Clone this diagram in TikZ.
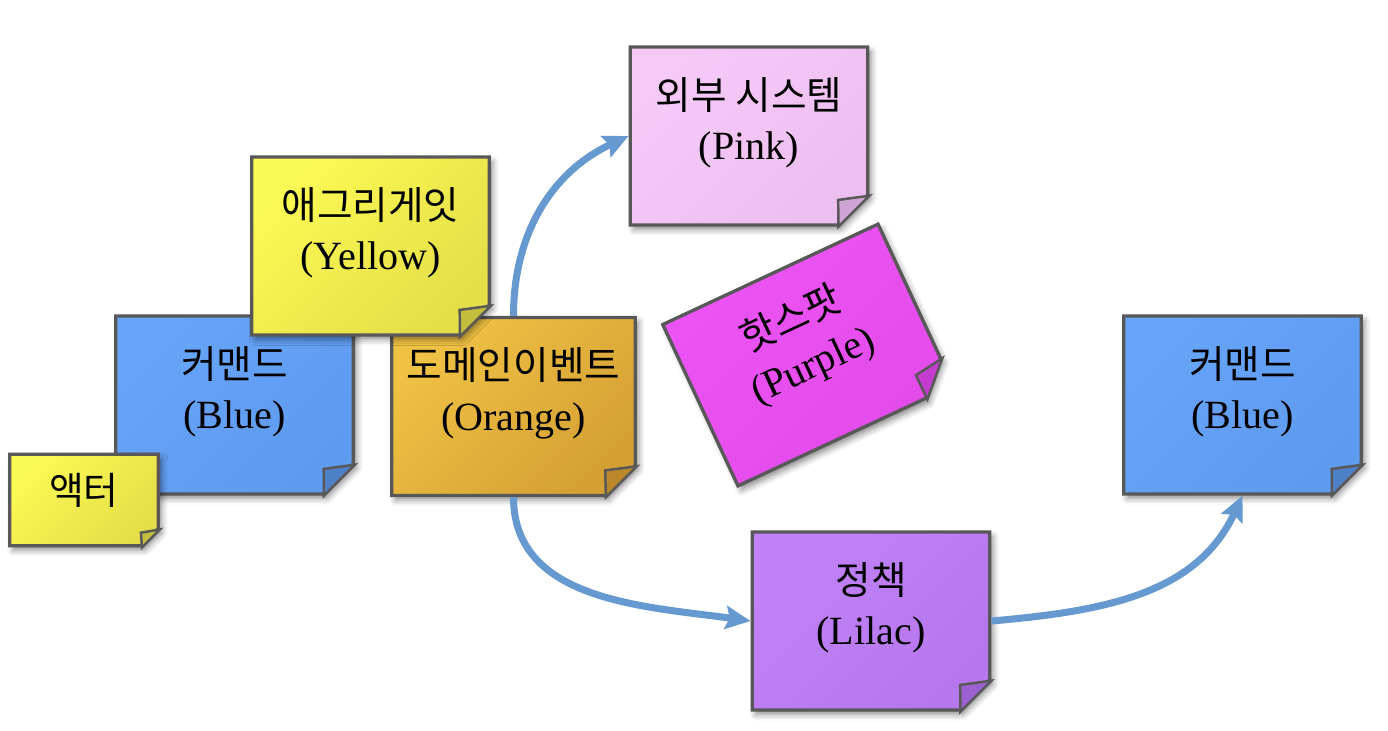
\documentclass[tikz,border=0pt]{standalone}
\usepackage{fontspec}
\setmainfont{Liberation Serif}
\newfontfamily\kr{Noto Sans CJK KR}
\usepackage{tikz}
\usetikzlibrary{
    arrows.meta,
    calc,
    shapes.misc,
    shadows.blur
}
\definecolor{edge}{RGB}{88,88,88}
\definecolor{flowline}{RGB}{102,153,207}
\definecolor{yellowtop}{RGB}{251,249,84}
\definecolor{yellowbot}{RGB}{228,222,72}
\definecolor{yellowfold}{RGB}{196,190,62}
\definecolor{bluetop}{RGB}{103,165,249}
\definecolor{bluebot}{RGB}{94,154,238}
\definecolor{bluefold}{RGB}{78,128,200}
\definecolor{orangetop}{RGB}{240,194,68}
\definecolor{orangebot}{RGB}{212,160,52}
\definecolor{orangefold}{RGB}{186,136,42}
\definecolor{pinktop}{RGB}{245,202,247}
\definecolor{pinkbot}{RGB}{237,190,240}
\definecolor{pinkfold}{RGB}{204,165,210}
\definecolor{purpletop}{RGB}{237,84,245}
\definecolor{purplebot}{RGB}{226,74,233}
\definecolor{purplefold}{RGB}{196,60,206}
\definecolor{lilactop}{RGB}{194,130,247}
\definecolor{lilacbot}{RGB}{182,118,236}
\definecolor{lilacfold}{RGB}{156,96,210}

\newcommand\twolines[2]{\raisebox{2.3mm}[\height][\depth]{%
    \begin{tabular}{@{}c@{}}{\kr\fontsize{22}{28}\selectfont #1}\\#2\end{tabular}}}
\newcommand\foldcorner[2]{%
    \filldraw[fold, fill=#2] (#1.before south east)
        -- ($(#1.before south east)!0.5!(#1.after south east)!0.15!(#1.center)$)
        -- (#1.after south east) -- cycle;}

\tikzset{
    line cap=round,
    line join=round,
    pop/.style={
        blur shadow={shadow xshift=0.7mm, shadow yshift=-0.9mm,
            shadow blur radius=1.2mm, shadow opacity=45}
    },
    note/.style={
        chamfered rectangle,
        chamfered rectangle corners=south east,
        chamfered rectangle xsep=0.3cm,
        chamfered rectangle ysep=0.3cm,
        draw=edge,
        line width=1.9pt,
        minimum width=4.75cm,
        minimum height=3.56cm,
        inner sep=0pt,
        align=center,
        font=\fontsize{22.8}{28.5}\selectfont,
        pop
    },
    small note/.style={
        note,
        chamfered rectangle xsep=0.17cm,
        chamfered rectangle ysep=0.17cm,
        minimum width=2.97cm,
        minimum height=1.83cm
    },
    yellow note/.style={top color=yellowtop, bottom color=yellowbot, shading angle=45},
    blue note/.style={top color=bluetop, bottom color=bluebot, shading angle=45},
    orange note/.style={top color=orangetop, bottom color=orangebot, shading angle=45},
    pink note/.style={top color=pinktop, bottom color=pinkbot, shading angle=45},
    purple note/.style={top color=purpletop, bottom color=purplebot, shading angle=45},
    lilac note/.style={top color=lilactop, bottom color=lilacbot, shading angle=45},
    fold/.style={
        draw=edge,
        line width=1.4pt
    },
    flow/.style={
        -{Stealth[length=5mm, width=4.6mm, inset=0.8mm]},
        draw=flowline,
        line width=4pt,
        line cap=butt
    }
}

\begin{document}
\begin{tikzpicture}

\useasboundingbox (0,0) rectangle (27.76,-14.6);

% notes, back to front
\node[note, blue note] (cmdL) at (4.69,-8.10) {\twolines{커맨드}{(Blue)}};
\foldcorner{cmdL}{bluefold}
\node[note, orange note] (event) at (10.27,-8.13) {\twolines{도메인이벤트}{(Orange)}};
\foldcorner{event}{orangefold}
\node[note, yellow note] (aggr) at (7.41,-4.92) {\twolines{애그리게잇}{(Yellow)}};
\foldcorner{aggr}{yellowfold}
\node[small note, yellow note] (actor) at (1.68,-10.00)
    {\raisebox{2mm}[\height][\depth]{\kr\fontsize{21.5}{28}\selectfont 액터}};
\foldcorner{actor}{yellowfold}

\node[note, pink note] (ext) at (14.98,-2.72) {\twolines{외부 시스템}{(Pink)}};
\foldcorner{ext}{pinkfold}
\node[note, purple note, rotate=25] (hot) at (16.16,-7.10) {\twolines{핫스팟}{(Purple)}};
\foldcorner{hot}{purplefold}
\node[note, lilac note] (policy) at (17.42,-12.42) {\twolines{정책}{(Lilac)}};
\foldcorner{policy}{lilacfold}
\node[note, blue note] (cmdR) at (24.85,-8.10) {\twolines{커맨드}{(Blue)}};
\foldcorner{cmdR}{bluefold}

% flows
\draw[flow] (event.north) to[out=90, in=205] (ext.west);
\draw[flow] (event.south) to[out=-90, in=172] (policy.west);
\draw[flow] (policy.east) to[out=5, in=-115] (cmdR.south);

\end{tikzpicture}
\end{document}
